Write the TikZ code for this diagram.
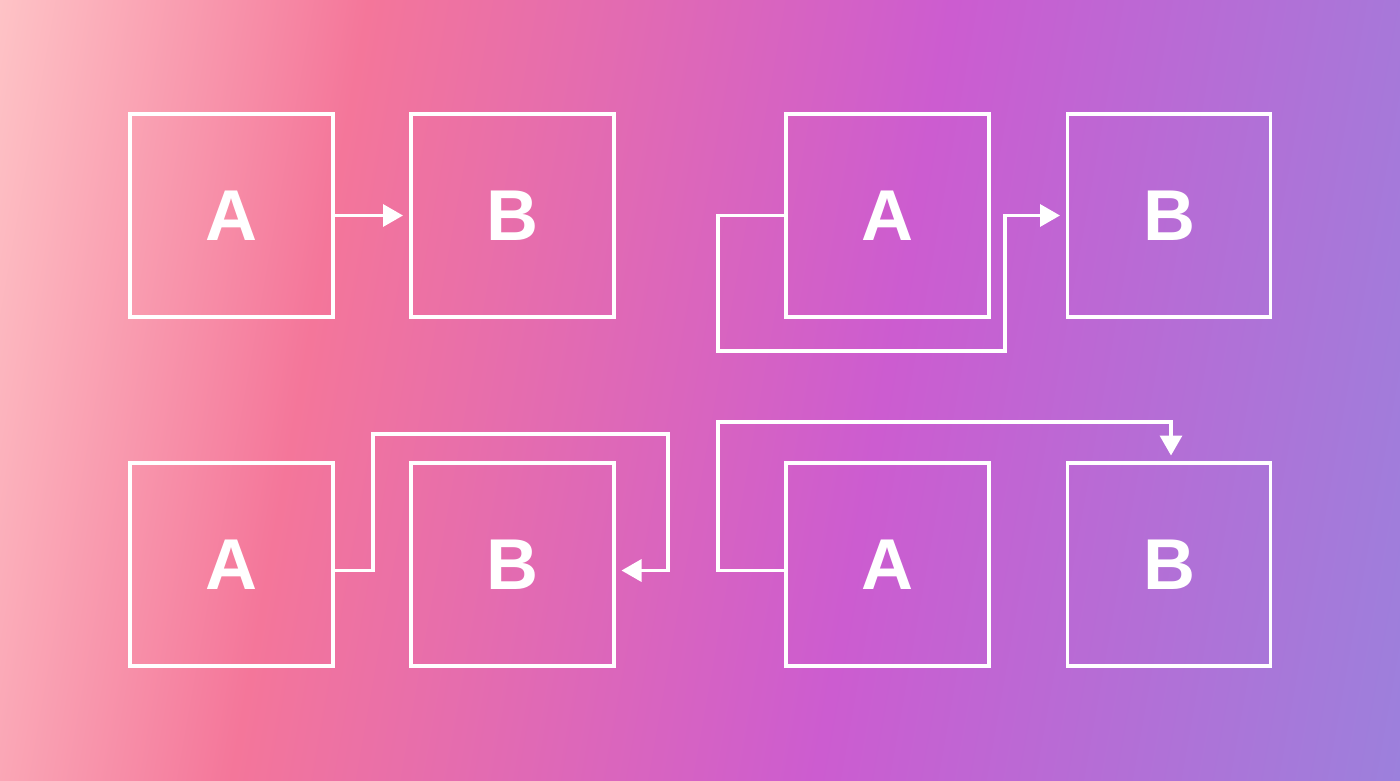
\documentclass[tikz,border=0pt]{standalone}
\usepackage{fontspec}
\setmainfont{Liberation Sans}
\usetikzlibrary{arrows.meta,calc}
\definecolor{g0}{HTML}{FEC3C6}
\definecolor{g1}{HTML}{F4769A}
\definecolor{g2}{HTML}{CC5CD0}
\definecolor{g3}{HTML}{9C80DC}
\pgfdeclarehorizontalshading{bgshade}{1200bp}{color(0bp)=(g0); color(50bp)=(g0); color(413bp)=(g1); color(989bp)=(g2); color(1564bp)=(g3); color(1614bp)=(g3)}
\begin{document}
\begin{tikzpicture}[x=1bp,y=-1bp,
  box/.style={draw=white, line width=3.5bp, minimum width=203bp, minimum height=203bp,
    inner sep=0pt, outer sep=0pt, text=white, font=\fontsize{72bp}{72bp}\selectfont\bfseries},
  conn/.style={draw=white, line width=3.3bp, -{Triangle[length=20bp,width=22bp]}}]
\useasboundingbox (0,0) rectangle (1400,780);
\begin{scope}
\clip (0,0) rectangle (1400,780);
\node[inner sep=0pt, outer sep=0pt, rotate=-10] (bg) at (700,390) {\pgfuseshading{bgshade}};
\end{scope}
% boxes
\node[box] (A1) at (231.5,215.5) {A};
\node[box] (B1) at (512.5,215.5) {B};
\node[box] (A2) at (887.5,215.5) {A};
\node[box] (B2) at (1169,215.5) {B};
\node[box] (A3) at (231.5,564.5) {A};
\node[box] (B3) at (512.5,564.5) {B};
\node[box] (A4) at (887.5,564.5) {A};
\node[box] (B4) at (1169,564.5) {B};
% connector 1
\draw[conn] (A1.east) -- ([xshift=-8bp]B1.west);
% connector 2
\coordinate (p2a) at (718,351);
\coordinate (p2b) at (1005,351);
\draw[conn] (A2.west) -| (p2a) -| (p2b |- B2.west) -- ([xshift=-7.5bp]B2.west);
% connector 3
\coordinate (s3) at ([yshift=-6bp]A3.east);
\coordinate (p3a) at (373,434);
\coordinate (p3b) at (668,434);
\coordinate (e3) at ([xshift=7.5bp,yshift=-6bp]B3.east);
\draw[conn] (s3) -| (p3a) -- (p3b) |- (e3);
% connector 4
\coordinate (s4) at ([yshift=-6bp]A4.west);
\coordinate (p4a) at (718,422);
\coordinate (e4) at ([xshift=2bp,yshift=7.5bp]B4.north);
\draw[conn] (s4) -| (p4a) -| (e4);
\end{tikzpicture}
\end{document}
